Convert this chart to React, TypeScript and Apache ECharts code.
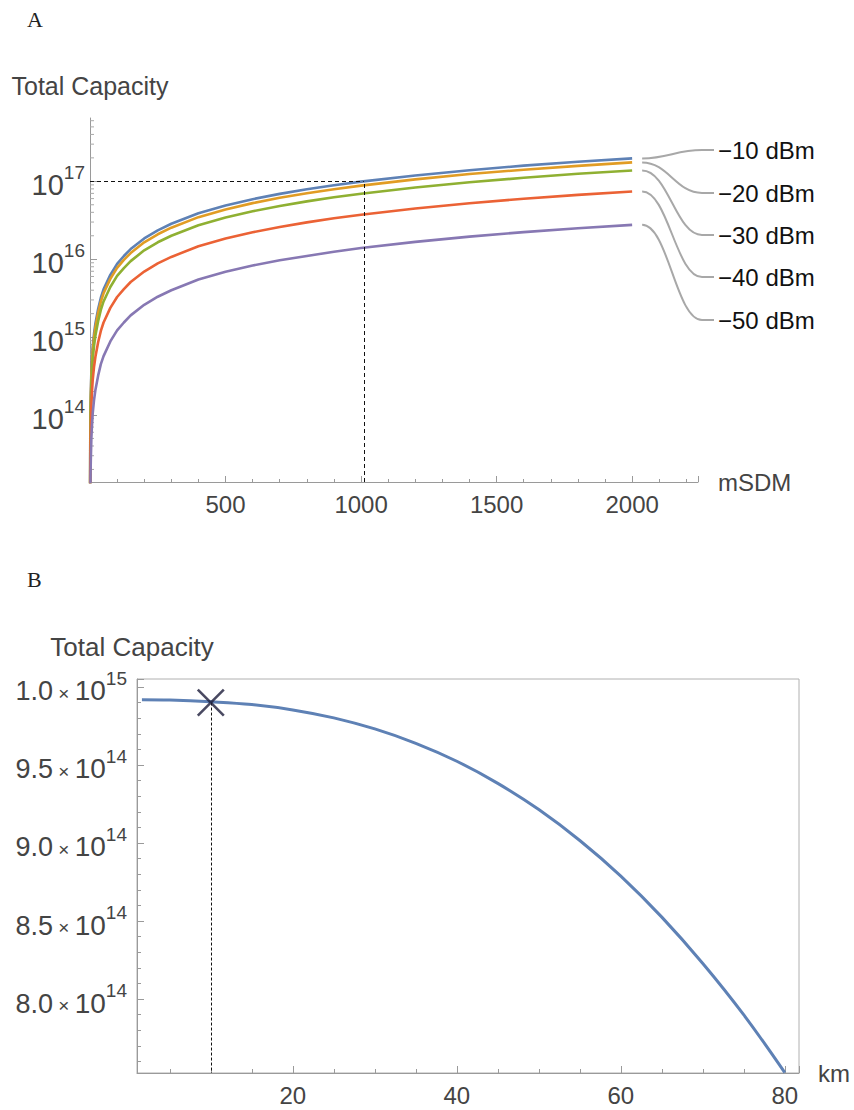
import React, { useEffect, useRef } from 'react';
import * as echarts from 'echarts';

// ---------- Panel A data ----------
const mSDM = [0.1, 1, 2, 3, 5, 7, 10, 15, 20, 30, 40, 50, 75, 100, 125, 150, 200, 250, 300, 400, 500, 600, 700, 800, 900, 1000, 1200, 1400, 1600, 1800, 2000];
const capM10 = [3e12, 5.0e13, 1.2e14, 1.9e14, 3.6e14, 5.1e14, 7.5e14, 1.12e15, 1.5e15, 2.3e15, 3.2e15, 4.1e15, 6.3e15, 8.7e15, 1.1e16, 1.35e16, 1.85e16, 2.35e16, 2.85e16, 3.9e16, 4.9e16, 5.9e16, 6.9e16, 7.9e16, 8.9e16, 9.9e16, 1.19e17, 1.39e17, 1.59e17, 1.78e17, 1.97e17];
const capM20 = [3e12, 4.4e13, 1.07e14, 1.7e14, 3.2e14, 4.55e14, 6.7e14, 1.0e15, 1.33e15, 2.05e15, 2.85e15, 3.65e15, 5.6e15, 7.75e15, 9.8e15, 1.2e16, 1.65e16, 2.09e16, 2.54e16, 3.47e16, 4.36e16, 5.25e16, 6.14e16, 7.03e16, 7.92e16, 8.8e16, 1.06e17, 1.24e17, 1.41e17, 1.58e17, 1.75e17];
const capM30 = [3e12, 3.5e13, 8.4e13, 1.33e14, 2.5e14, 3.6e14, 5.2e14, 7.8e14, 1.05e15, 1.6e15, 2.24e15, 2.87e15, 4.4e15, 6.1e15, 7.7e15, 9.45e15, 1.3e16, 1.65e16, 2.0e16, 2.73e16, 3.43e16, 4.13e16, 4.83e16, 5.53e16, 6.23e16, 6.93e16, 8.33e16, 9.73e16, 1.11e17, 1.25e17, 1.38e17];
const capM40 = [3e12, 1.9e13, 4.5e13, 7.1e13, 1.35e14, 1.92e14, 2.8e14, 4.2e14, 5.6e14, 8.6e14, 1.2e15, 1.54e15, 2.37e15, 3.27e15, 4.14e15, 5.1e15, 6.95e15, 8.84e15, 1.07e16, 1.47e16, 1.84e16, 2.22e16, 2.59e16, 2.97e16, 3.35e16, 3.72e16, 4.47e16, 5.23e16, 5.98e16, 6.7e16, 7.4e16];
const capM50 = [3e12, 7.0e12, 1.68e13, 2.66e13, 5.0e13, 7.1e13, 1.05e14, 1.57e14, 2.1e14, 3.2e14, 4.5e14, 5.7e14, 8.8e14, 1.22e15, 1.54e15, 1.9e15, 2.6e15, 3.3e15, 4.0e15, 5.5e15, 6.9e15, 8.3e15, 9.7e15, 1.1e16, 1.25e16, 1.39e16, 1.67e16, 1.95e16, 2.23e16, 2.5e16, 2.76e16];
const powerLabels = ['\u221210 dBm', '\u221220 dBm', '\u221230 dBm', '\u221240 dBm', '\u221250 dBm'];
const seriesColors = ['#5E81B5', '#E19C24', '#8FB032', '#EB6235', '#8778B3'];
const refN = 1010;
const refCapacity = 1e17;
const yMinA = 1.38e13;
const yMaxA = 6.5e17;
const xMaxA = 2243;
const minorMultipliers = [2, 3, 4, 5, 6, 7, 8, 9];
const minorDecades = [1e13, 1e14, 1e15, 1e16, 1e17];

// ---------- Panel B data ----------
const km = [1.6, 5, 10, 15, 20, 25, 30, 35, 40, 45, 50, 55, 60, 65, 70, 75, 80];
const capKm = [9.918e14, 9.916e14, 9.905e14, 9.887e14, 9.853e14, 9.802e14, 9.731e14, 9.639e14, 9.524e14, 9.382e14, 9.214e14, 9.016e14, 8.788e14, 8.525e14, 8.228e14, 7.898e14, 7.528e14];
const markerKm = 10;
const markerCap = 9.9e14;
const yMinB = 7.526e14;
const yMaxB = 1.0051e15;
const xMinB = 1;
const xMaxB = 81.73;

const FONT = "'Liberation Sans', Arial, Helvetica, sans-serif";
const SERIF = "'Liberation Serif', 'DejaVu Serif', serif";
const AXIS = '#9a9a9a';
const LABEL = '#444';

export default function App() {
  const ref = useRef<HTMLDivElement>(null);

  useEffect(() => {
    if (!ref.current) return;
    const chart = echarts.init(ref.current, undefined, { renderer: 'svg' });
    const seriesA = [capM10, capM20, capM30, capM40, capM50];

    const yMinorTicks: number[] = [];
    minorDecades.forEach((d) => minorMultipliers.forEach((m) => {
      const v = m * d;
      if (v > yMinA && v < yMaxA) yMinorTicks.push(v);
    }));

    const option: any = {
      animation: false,
      grid: [
        { left: 90, top: 118, width: 608, height: 364, show: false },
        { left: 137, top: 679, width: 662, height: 394, show: true, borderColor: '#b0b0b0', borderWidth: 1 },
      ],
      xAxis: [
        {
          type: 'value', gridIndex: 0, min: 0, max: xMaxA, interval: 500,
          axisLine: { show: true, lineStyle: { color: AXIS, width: 1 } },
          axisTick: { show: true, inside: true, length: 6, lineStyle: { color: AXIS } },
          minorTick: { show: true, splitNumber: 5, length: 3, lineStyle: { color: AXIS } },
          splitLine: { show: false },
          axisLabel: {
            showMinLabel: false, showMaxLabel: false, fontSize: 24, color: LABEL, fontFamily: FONT, margin: 10,
            formatter: (v: number) => String(v),
          },
          name: 'mSDM', nameLocation: 'end', nameGap: 20,
          nameTextStyle: { fontSize: 24, color: LABEL, fontFamily: FONT },
        },
        {
          type: 'value', gridIndex: 1, min: xMinB, max: xMaxB, splitNumber: 4,
          axisLine: { show: true, onZero: false, lineStyle: { color: AXIS, width: 1 } },
          axisTick: { show: true, inside: true, length: 7, lineStyle: { color: AXIS } },
          minorTick: { show: true, splitNumber: 4, length: 4, lineStyle: { color: AXIS } },
          splitLine: { show: false },
          axisLabel: {
            showMinLabel: false, showMaxLabel: false, fontSize: 24, color: LABEL, fontFamily: FONT, margin: 10,
            formatter: (v: number) => String(v),
          },
          name: 'km', nameLocation: 'end', nameGap: 19,
          nameTextStyle: { fontSize: 24, color: LABEL, fontFamily: FONT },
        },
      ],
      yAxis: [
        {
          type: 'log', gridIndex: 0, logBase: 10, min: yMinA, max: yMaxA,
          axisLine: { show: true, lineStyle: { color: AXIS, width: 1 } },
          axisTick: { show: true, inside: true, length: 7, lineStyle: { color: AXIS } },
          minorTick: { show: false },
          splitLine: { show: false },
          axisLabel: {
            showMinLabel: false, showMaxLabel: false, margin: 5,
            formatter: (v: number) => `{b|10}{s|${Math.round(Math.log10(v))}}`,
            rich: {
              b: { fontSize: 29, color: LABEL, fontFamily: FONT, lineHeight: 36, verticalAlign: 'bottom' },
              s: { fontSize: 19, color: LABEL, fontFamily: FONT, lineHeight: 19, verticalAlign: 'top' },
            },
          },
          name: 'Total Capacity', nameLocation: 'end', nameGap: 20,
          nameTextStyle: { fontSize: 25, color: LABEL, fontFamily: FONT, align: 'center' },
        },
        {
          type: 'value', gridIndex: 1, min: yMinB, max: yMaxB, splitNumber: 5,
          axisLine: { show: true, lineStyle: { color: AXIS, width: 1 } },
          axisTick: { show: true, inside: true, length: 7, lineStyle: { color: AXIS } },
          minorTick: { show: true, splitNumber: 5, length: 4, lineStyle: { color: AXIS } },
          splitLine: { show: false },
          axisLabel: {
            showMinLabel: false, showMaxLabel: false, margin: 10,
            formatter: (v: number) => {
              const e = Math.floor(Math.log10(v) + 1e-9);
              const m = (v / Math.pow(10, e)).toFixed(1);
              return `{m|${m}}{x| \u00d7 }{b|10}{s|${e}}`;
            },
            rich: {
              m: { fontSize: 27, color: LABEL, fontFamily: FONT, lineHeight: 36, verticalAlign: 'bottom' },
              x: { fontSize: 19, color: LABEL, fontFamily: FONT, lineHeight: 36, verticalAlign: 'bottom', padding: [0, 0, 2, 0] },
              b: { fontSize: 28, color: LABEL, fontFamily: FONT, lineHeight: 36, verticalAlign: 'bottom' },
              s: { fontSize: 19, color: LABEL, fontFamily: FONT, lineHeight: 19, verticalAlign: 'top' },
            },
          },
          name: 'Total Capacity', nameLocation: 'end', nameGap: 19,
          nameTextStyle: { fontSize: 26, color: LABEL, fontFamily: FONT, align: 'center', padding: [0, 10, 0, 0] },
        },
      ],
      series: [
        ...seriesA.map((vals, i) => ({
          type: 'line', name: powerLabels[i], xAxisIndex: 0, yAxisIndex: 0,
          data: mSDM.map((n, j) => [n, vals[j]]),
          showSymbol: false, smooth: false,
          lineStyle: { color: seriesColors[i], width: 2.6, join: 'round' },
          itemStyle: { color: seriesColors[i] },
          silent: true, z: 3,
          markLine: i === 0 ? {
            silent: true, symbol: 'none', label: { show: false },
            lineStyle: { color: '#111', type: [4, 3], width: 1 },
            data: [
              [{ coord: [0, refCapacity] }, { coord: [refN, refCapacity] }],
              [{ coord: [refN, yMinA] }, { coord: [refN, refCapacity] }],
            ],
          } : undefined,
        })),
        {
          type: 'custom', xAxisIndex: 0, yAxisIndex: 0, silent: true, z: 2,
          data: yMinorTicks.map((v) => [0, v]),
          renderItem: (params: any, api: any) => {
            const p = api.coord([0, api.value(1)]);
            return { type: 'line', shape: { x1: p[0], y1: p[1], x2: p[0] + 4, y2: p[1] }, style: { stroke: '#aaa', lineWidth: 1 } };
          },
        },
        {
          type: 'line', xAxisIndex: 1, yAxisIndex: 1,
          data: km.map((k, j) => [k, capKm[j]]),
          showSymbol: false, smooth: 0.4,
          lineStyle: { color: '#5E81B5', width: 3 },
          silent: true, z: 3,
          markLine: {
            silent: true, symbol: 'none', label: { show: false },
            lineStyle: { color: '#111', type: [3, 2], width: 1 },
            data: [[{ coord: [markerKm, markerCap] }, { coord: [markerKm, yMinB] }]],
          },
        },
        {
          type: 'scatter', xAxisIndex: 1, yAxisIndex: 1,
          data: [[markerKm, markerCap]],
          symbol: 'path://M0 0 L10 10 M10 0 L0 10', symbolSize: 26,
          itemStyle: { color: 'rgba(0,0,0,0)', borderColor: '#1c1c3a', borderWidth: 2.6 },
          silent: true, z: 5,
        },
      ],
    };
    chart.setOption(option);

    const labelYs = [150, 193, 235, 277, 320];
    const graphics: any[] = [
      { type: 'text', x: 27, y: 8, style: { text: 'A', fontSize: 22, fontFamily: SERIF, fill: '#222' } },
      { type: 'text', x: 27, y: 568, style: { text: 'B', fontSize: 22, fontFamily: SERIF, fill: '#222' } },
    ];
    seriesA.forEach((vals, i) => {
      const p = chart.convertToPixel({ xAxisIndex: 0, yAxisIndex: 0 }, [mSDM[mSDM.length - 1], vals[vals.length - 1]]) as number[];
      const x0 = p[0] + 10;
      const y0 = p[1];
      const yl = labelYs[i];
      graphics.push({
        type: 'bezierCurve',
        shape: { x1: x0, y1: y0, cpx1: x0 + 26, cpy1: y0, cpx2: 676, cpy2: yl, x2: 702, y2: yl },
        style: { stroke: '#a8a8a8', lineWidth: 2, fill: 'none' }, silent: true,
      });
      graphics.push({ type: 'line', shape: { x1: 702, y1: yl, x2: 714, y2: yl }, style: { stroke: '#a8a8a8', lineWidth: 2 }, silent: true });
      graphics.push({
        type: 'text', x: 718, y: yl,
        style: { text: powerLabels[i], fontSize: 24, fontFamily: FONT, fill: '#111', verticalAlign: 'middle' },
        silent: true,
      });
    });
    chart.setOption({ graphic: graphics });

    return () => chart.dispose();
  }, []);

  return <div ref={ref} style={{ position: 'absolute', left: 0, top: 0, width: 854, height: 1110, background: '#fff' }} />;
}
